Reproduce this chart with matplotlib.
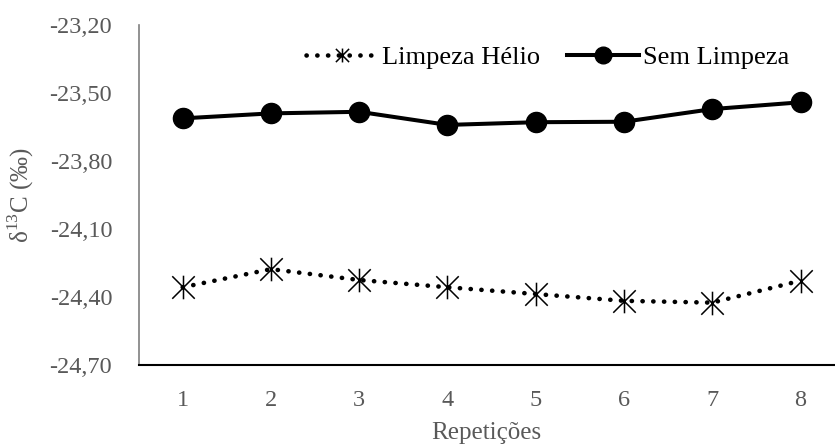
import matplotlib
matplotlib.use("Agg")
import matplotlib.pyplot as plt
from matplotlib.path import Path
from matplotlib.ticker import FuncFormatter

# data
repeticoes = [1, 2, 3, 4, 5, 6, 7, 8]
limpeza_helio = [-24.358, -24.278, -24.326, -24.358, -24.388, -24.418, -24.426, -24.329]
sem_limpeza = [-23.612, -23.590, -23.583, -23.641, -23.629, -23.627, -23.571, -23.541]
y_ticks = [-23.20, -23.50, -23.80, -24.10, -24.40, -24.70]

plt.rcParams['font.family'] = ['Liberation Serif', 'DejaVu Serif']
plt.rcParams['mathtext.fontset'] = 'custom'
plt.rcParams['mathtext.rm'] = 'Liberation Serif'

gray = '#595959'

# asterisk marker: an X with a vertical bar
star = Path([(-1, -1), (1, 1), (-1, 1), (1, -1), (0, -1.05), (0, 1.05)],
            [Path.MOVETO, Path.LINETO] * 3)

fig = plt.figure(figsize=(8.35, 4.48), dpi=100)
ax = fig.add_axes([0.1659, 0.186, 1.0 - 0.1659, 0.944 - 0.186])

ax.plot(repeticoes, limpeza_helio, color='black', lw=3.3,
        linestyle=(0, (0.05, 2.3)), dash_capstyle='round',
        marker=star, markersize=17, markeredgewidth=1.1,
        markeredgecolor='black', label='Limpeza Hélio')
ax.plot(repeticoes, sem_limpeza, color='black', lw=2.9,
        marker='o', markersize=14.5, label='Sem Limpeza')

ax.set_xlim(0.5, 8.39)
ax.set_ylim(-24.70, -23.20)
ax.set_xticks(repeticoes)
ax.set_yticks(y_ticks)
ax.yaxis.set_major_formatter(FuncFormatter(lambda v, p: f'{v:.2f}'.replace('.', ',')))

ax.tick_params(axis='both', length=0, labelsize=17.5, labelcolor=gray)
ax.tick_params(axis='y', pad=19)
ax.tick_params(axis='x', pad=18)

for s in ['top', 'right']:
    ax.spines[s].set_visible(False)
ax.spines['left'].set_color('#7f7f7f')
ax.spines['left'].set_linewidth(1.2)
ax.spines['bottom'].set_color('black')
ax.spines['bottom'].set_linewidth(1.5)

ax.set_xlabel('Repetições', fontsize=18, color=gray, labelpad=8)
ax.set_ylabel('δ$^{13}$C (‰)', fontsize=18, color=gray, labelpad=10)

leg = fig.legend(loc='center left', bbox_to_anchor=(0.366, 0.872), ncol=2,
                 frameon=False, fontsize=19, handlelength=2.75,
                 handletextpad=0.15, columnspacing=1.0, borderpad=0,
                 borderaxespad=0)
leg.legend_handles[0].set_markersize(10)
leg.legend_handles[1].set_markersize(12)

fig.savefig('out.png', dpi=100)
